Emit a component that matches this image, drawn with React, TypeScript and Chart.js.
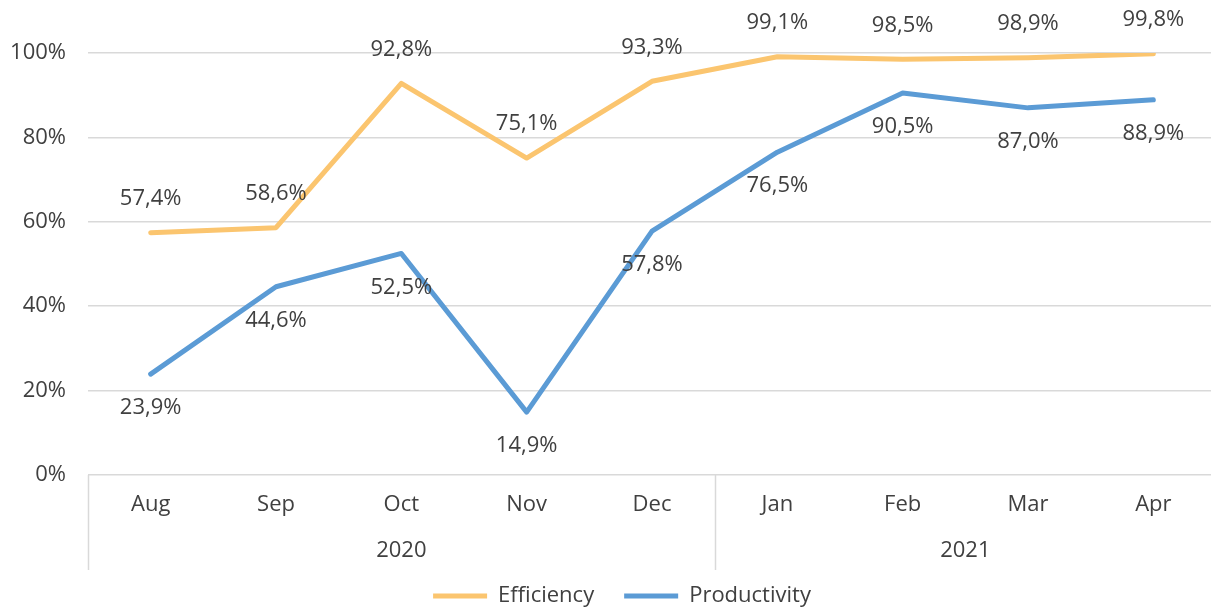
import React, { useEffect, useRef } from 'react';
import { Chart, registerables } from 'chart.js';

Chart.register(...registerables);

const months = ['Aug', 'Sep', 'Oct', 'Nov', 'Dec', 'Jan', 'Feb', 'Mar', 'Apr'];
const yearLabels = ['2020', '2021'];
const yearSpans = [5, 4];
const efficiency = [57.4, 58.6, 92.8, 75.1, 93.3, 99.1, 98.5, 98.9, 99.8];
const productivity = [23.9, 44.6, 52.5, 14.9, 57.8, 76.5, 90.5, 87.0, 88.9];
const yMin = 0;
const yMax = 100;
const yStep = 20;

const FONT = '"Open Sans", "DejaVu Sans", sans-serif';
const FS = 22;
const TEXT = '#404040';
const GRID = '#d9d9d9';
const ORANGE = '#fbc56f';
const BLUE = '#5b9bd5';

const fmt = (v: number) => v.toFixed(1).replace('.', ',') + '%';

const valueLabels = {
  id: 'valueLabels',
  afterDatasetsDraw(chart: any) {
    const ctx = chart.ctx;
    ctx.save();
    ctx.font = `${FS}px ${FONT}`;
    ctx.fillStyle = TEXT;
    ctx.textAlign = 'center';
    ctx.textBaseline = 'middle';
    chart.data.datasets.forEach((ds: any, i: number) => {
      const meta = chart.getDatasetMeta(i);
      const off = ds.labelOffset || 0;
      meta.data.forEach((pt: any, j: number) => {
        ctx.fillText(fmt(ds.data[j]), pt.x, pt.y + off);
      });
    });
    ctx.restore();
  },
};

const yearAxis = {
  id: 'yearAxis',
  afterDraw(chart: any) {
    const x = chart.scales.x;
    const ctx = chart.ctx;
    const step = x.getPixelForValue(1) - x.getPixelForValue(0);
    const top = x.top;
    ctx.save();
    ctx.strokeStyle = GRID;
    ctx.lineWidth = 1.5;
    ctx.font = `${FS}px ${FONT}`;
    ctx.fillStyle = TEXT;
    ctx.textAlign = 'center';
    ctx.textBaseline = 'middle';
    let idx = 0;
    yearLabels.forEach((lab, g) => {
      const left = x.getPixelForValue(idx) - step / 2;
      const right = x.getPixelForValue(idx + yearSpans[g] - 1) + step / 2;
      ctx.beginPath();
      ctx.moveTo(Math.round(left) + 0.5, top);
      ctx.lineTo(Math.round(left) + 0.5, top + 95);
      ctx.stroke();
      ctx.fillText(lab, (left + right) / 2, top + 76);
      idx += yearSpans[g];
    });
    ctx.restore();
  },
};

const shiftLegend = {
  id: 'shiftLegend',
  afterLayout(chart: any) {
    if (chart.legend) {
      chart.legend.left += 14;
      chart.legend.right += 14;
    }
  },
};

export default function App() {
  const ref = useRef<HTMLCanvasElement>(null);
  useEffect(() => {
    if (!ref.current) return;
    const chart = new Chart(ref.current, {
      type: 'line',
      data: {
        labels: months,
        datasets: [
          {
            label: 'Efficiency',
            data: efficiency,
            borderColor: ORANGE,
            backgroundColor: ORANGE,
            borderWidth: 5,
            pointRadius: 0,
            borderCapStyle: 'round',
            borderJoinStyle: 'round',
            tension: 0,
            labelOffset: -34,
          } as any,
          {
            label: 'Productivity',
            data: productivity,
            borderColor: BLUE,
            backgroundColor: BLUE,
            borderWidth: 5,
            pointRadius: 0,
            borderCapStyle: 'round',
            borderJoinStyle: 'round',
            tension: 0,
            labelOffset: 34,
          } as any,
        ],
      },
      options: {
        responsive: false,
        animation: false,
        layout: { padding: { top: 53, left: 0, right: 0, bottom: 0 } },
        plugins: {
          tooltip: { enabled: false },
          legend: {
            position: 'bottom',
            labels: {
              usePointStyle: true,
              pointStyle: 'line',
              pointStyleWidth: 54,
              color: TEXT,
              font: { family: FONT, size: FS },
              padding: 30,
            },
          },
        },
        scales: {
          x: {
            offset: true,
            grid: { display: false, drawTicks: false },
            border: { display: false },
            ticks: {
              color: TEXT,
              font: { family: FONT, size: FS },
              padding: 17,
              maxRotation: 0,
              autoSkip: false,
            },
            afterFit: (s: any) => {
              s.height = 80;
            },
          },
          y: {
            min: yMin,
            max: yMax,
            ticks: {
              stepSize: yStep,
              color: TEXT,
              font: { family: FONT, size: FS },
              padding: 22,
              callback: (v: any) => v + '%',
            },
            grid: { color: GRID, lineWidth: 1.5, drawTicks: false },
            border: { display: false },
            afterFit: (s: any) => {
              s.width = 88;
            },
          },
        },
      } as any,
      plugins: [valueLabels, yearAxis, shiftLegend],
    });
    return () => chart.destroy();
  }, []);
  return (
    <div style={{ position: 'absolute', left: 0, top: 0, width: 1211, height: 610, overflow: 'hidden', background: '#fff' }}>
      <canvas ref={ref} width={1216} height={617} style={{ display: 'block' }} />
    </div>
  );
}
